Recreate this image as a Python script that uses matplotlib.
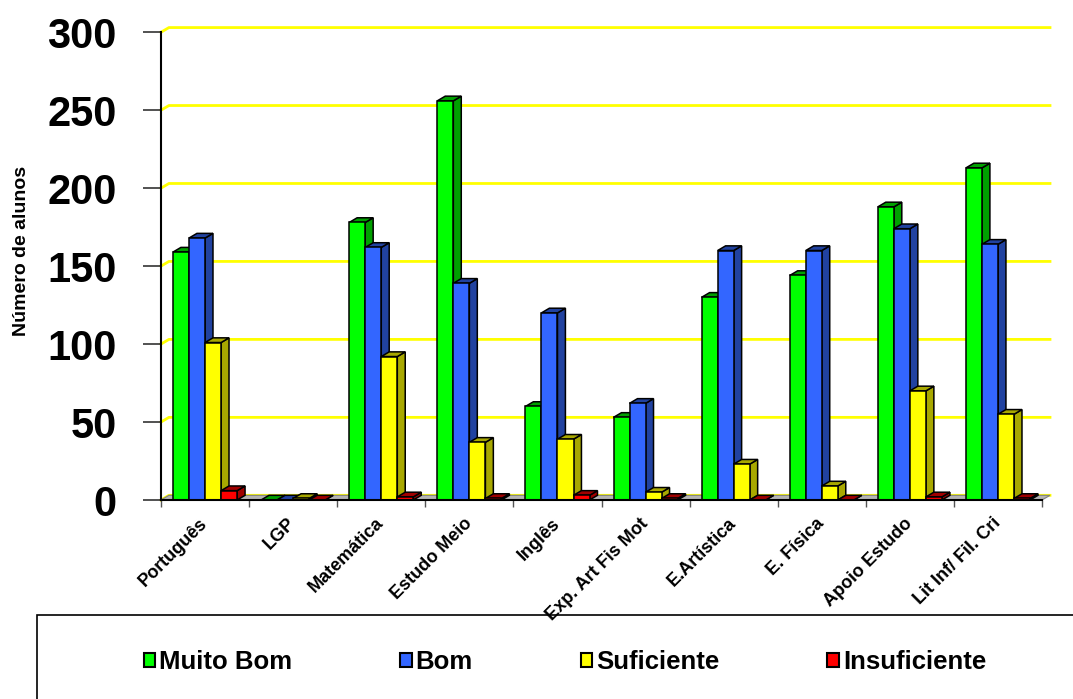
import matplotlib
matplotlib.use('Agg')
import matplotlib.pyplot as plt
from matplotlib.patches import Polygon, Rectangle, Patch

categorias = ['Português', 'LGP', 'Matemática', 'Estudo Meio', 'Inglês',
              'Exp. Art Fis Mot', 'E.Artística', 'E. Física', 'Apoio Estudo',
              'Lit Inf/ Fil. Cri']
muito_bom = [159, 0, 178, 256, 60, 53, 130, 144, 188, 213]
bom = [168, 0, 162, 139, 120, 62, 160, 160, 174, 164]
suficiente = [101, 1, 92, 37, 39, 5, 23, 9, 70, 55]
insuficiente = [6, 0, 2, 1, 3, 1, 0, 0, 2, 1]

series = [('Muito Bom', muito_bom, '#00FF00', '#00A000'),
          ('Bom', bom, '#3366FF', '#2142A0'),
          ('Suficiente', suficiente, '#FFFF00', '#A8A800'),
          ('Insuficiente', insuficiente, '#FF0000', '#A00000')]

plt.rcParams['font.family'] = ['Liberation Sans', 'DejaVu Sans']

# 3D look: depth offsets in data units
dx, dy = 0.09, 3.0
w = 0.182
n = len(categorias)

fig = plt.figure(figsize=(10.73, 6.99), dpi=100)
ax = fig.add_axes([161 / 1073, 199 / 699, 889 / 1073, 474 / 699])
ax.set_xlim(-0.5, n - 0.5 + dx)
ax.set_ylim(0, 304)

# back wall gridlines
for v in range(0, 301, 50):
    ax.plot([-0.5, -0.5 + dx, n - 0.5 + dx], [v, v + dy, v + dy],
            color='#FFFF00', lw=2, zorder=1, clip_on=False)

# floor
ax.add_patch(Polygon([(-0.5, 0), (n - 0.5, 0), (n - 0.5 + dx, dy), (-0.5 + dx, dy)],
                     closed=True, facecolor='#B4B4B4', edgecolor='#808080', lw=0.8,
                     zorder=2, clip_on=False))

# bars
z = 3
for i in range(n):
    for j, (name, vals, front, dark) in enumerate(series):
        x0 = i + (j - 2) * w
        x1 = x0 + w
        v = vals[i]
        side = Polygon([(x1, 0), (x1 + dx, dy), (x1 + dx, v + dy), (x1, v)],
                       closed=True, facecolor=dark, edgecolor='black', lw=1.1, zorder=z)
        top = Polygon([(x0, v), (x0 + dx, v + dy), (x1 + dx, v + dy), (x1, v)],
                      closed=True, facecolor=dark, edgecolor='black', lw=1.1, zorder=z)
        ax.add_patch(side)
        ax.add_patch(top)
        if v > 0:
            ax.bar(x0, v, width=w, align='edge', color=front, edgecolor='black',
                   lw=1.1, zorder=z + 1)
        z += 2

for s in ['top', 'right']:
    ax.spines[s].set_visible(False)
ax.spines['left'].set_bounds(0, 300)
ax.spines['bottom'].set_bounds(-0.5, n - 0.5)
ax.spines['left'].set_linewidth(1.5)
ax.spines['bottom'].set_linewidth(1.5)
ax.spines['left'].set_zorder(200)
ax.spines['bottom'].set_zorder(200)

ax.set_yticks(range(0, 301, 50))
ax.set_yticklabels([str(v) for v in range(0, 301, 50)], fontsize=30, fontweight='bold')
ax.tick_params(axis='y', length=13, width=1.2, pad=19, color='#333333')

ax.set_xticks([i - 0.5 for i in range(n + 1)], minor=True)
ax.tick_params(axis='x', which='minor', length=5, width=1, color='#555555')
ax.set_xticks(range(n))
ax.set_xticklabels(categorias, rotation=45, ha='right', va='center',
                   rotation_mode='anchor', fontsize=13, fontweight='bold')
ax.tick_params(axis='x', which='major', length=0, pad=15)

fig.text(22 / 1073, 1 - 251 / 699, 'Número de alunos', rotation=90, ha='center',
         va='center', fontsize=14, fontweight='bold')

# legend box
fig.patches.append(Rectangle((37 / 1073, -0.05), 1.0, 0.05 + 84 / 699,
                             transform=fig.transFigure, facecolor='none',
                             edgecolor='black', lw=1.2, zorder=0))
handles = [Patch(facecolor=c, edgecolor='black', lw=1.5, label=nm)
           for nm, _, c, _ in series]
fig.legend(handles=handles, loc='center', bbox_to_anchor=(565 / 1073, 37 / 699),
           ncol=4, frameon=False, prop={'size': 18.5, 'weight': 'bold'},
           handlelength=0.45, handleheight=0.45, handletextpad=0.15,
           columnspacing=4.2)

fig.savefig('out.png', dpi=100)
